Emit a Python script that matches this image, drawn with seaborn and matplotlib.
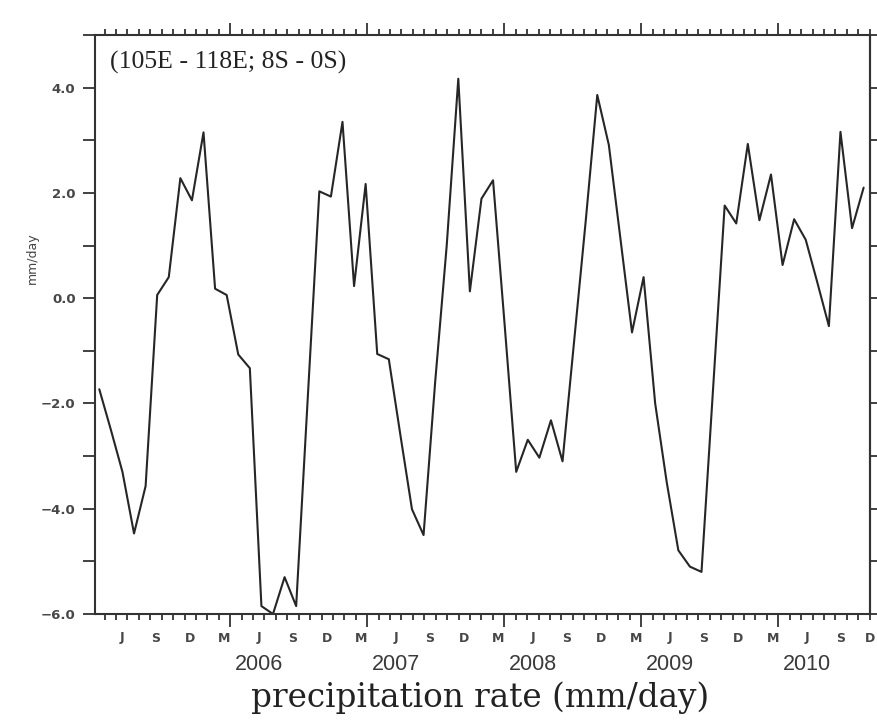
import numpy as np
import pandas as pd
import seaborn as sns
import matplotlib
matplotlib.use("Agg")
import matplotlib.pyplot as plt
from matplotlib.transforms import blended_transform_factory

# ---- data (monthly precipitation anomaly, mm/day) ----
precip = [-1.73, -2.5, -3.3, -4.47, -3.57, 0.06, 0.40, 2.28, 1.86, 3.15,
          0.18, 0.06, -1.07, -1.33, -5.85, -6.0, -5.3, -5.85, -1.9, 2.03,
          1.93, 3.35, 0.23, 2.17, -1.06, -1.16, -2.6, -4.01, -4.5, -1.6,
          1.0, 4.17, 0.13, 1.89, 2.24, -0.5, -3.30, -2.69, -3.03, -2.32,
          -3.1, -0.82, 1.46, 3.86, 2.91, 1.13, -0.65, 0.40, -2.0, -3.5,
          -4.79, -5.1, -5.2, -1.72, 1.76, 1.42, 2.93, 1.48, 2.35, 0.63,
          1.5, 1.11, 0.3, -0.53, 3.16, 1.33, 2.1]
month_labels = ["J", "S", "D", "M"] * 5 + ["J", "S", "D"]
year_labels = ["2006", "2007", "2008", "2009", "2010"]
ytick_values = [-6, -4, -2, 0, 2, 4]
ytick_labels = ["\u22126.0", "\u22124.0", "\u22122.0", "0.0", "2.0", "4.0"]
region_label = "(105E - 118E; 8S - 0S)"
title_text = "precipitation rate (mm/day)"
ylabel_text = "mm/day"

df = pd.DataFrame({"month": np.arange(len(precip)), "precip": precip})

sns.set_style("ticks")
fig = plt.figure(figsize=(8.78, 7.22), dpi=100)
ax = fig.add_axes([95 / 878, 1 - 614 / 722, 775 / 878, 579 / 722])

sns.lineplot(data=df, x="month", y="precip", ax=ax, color="#262626",
             linewidth=1.5)

ax.set_xlim(-0.37, 66.55)
ax.set_ylim(-6, 5)
ax.set_xlabel("")
ax.set_ylabel("")

spine_col = "#333333"
for s in ax.spines.values():
    s.set_color(spine_col)
    s.set_linewidth(1.5)
    s.set_visible(True)

# time-axis tick layout (month boundaries)
tick0, step = 0.458, 0.986
n_ticks = 68
long_idx = [11, 23, 35, 47, 59]
all_ticks = [tick0 + k * step for k in range(n_ticks)]
long_ticks = [all_ticks[k] for k in long_idx]
short_ticks = [t for k, t in enumerate(all_ticks) if k not in long_idx]
ax.set_xticks(long_ticks)
ax.set_xticks(short_ticks, minor=True)
ax.tick_params(axis="x", which="major", length=9, width=1.3, color=spine_col,
               top=True, bottom=True, direction="out",
               labelbottom=False, labeltop=False)
ax.tick_params(axis="x", which="minor", length=4.5, width=1.3, color=spine_col,
               top=True, bottom=True, direction="out")

# y axis
ax.set_yticks(ytick_values)
ax.set_yticklabels(ytick_labels)
ax.set_yticks([-5, -3, -1, 1, 3, 5], minor=True)
ax.tick_params(axis="y", which="both", length=9, width=1.3, color=spine_col,
               left=True, right=False, direction="out", pad=5)
for lab in ax.get_yticklabels():
    lab.set_fontfamily("DejaVu Sans")
    lab.set_fontweight("bold")
    lab.set_fontsize(9.5)
    lab.set_color("#474747")

sec = ax.secondary_yaxis("right")
sec.set_yticks(list(range(-6, 6)))
sec.tick_params(axis="y", length=6, width=1.3, color=spine_col,
                direction="out", labelright=False)
sec.spines["right"].set_color(spine_col)
sec.spines["right"].set_linewidth(1.5)

# month and year labels
trans = blended_transform_factory(ax.transData, fig.transFigure)
label_pos = [tick0 + (k + 0.5) * step for k in range(1, n_ticks, 3)]
label_pos[-1] = min(label_pos[-1], ax.get_xlim()[1])
for xpos, lab in zip(label_pos, month_labels):
    ax.text(xpos, 1 - 638 / 722, lab, transform=trans, ha="center",
            va="center", fontsize=9, fontweight="bold", color="#474747",
            family="DejaVu Sans")
year_pos = [tick0 + (k + 0.5) * step for k in (13, 25, 37, 49, 61)]
for xpos, lab in zip(year_pos, year_labels):
    ax.text(xpos, 1 - 665 / 722, lab, transform=trans, ha="center",
            va="center", fontsize=15.5, color="#3a3a3a",
            family="Liberation Sans")

ax.text(110 / 878, 1 - 62 / 722, region_label, transform=fig.transFigure,
        ha="left", va="center", fontsize=18.5, family="Liberation Serif",
        color="#222222")

fig.text(480 / 878, 1 - 698 / 722, title_text, ha="center", va="center",
         fontsize=23.5, family="DejaVu Serif", color="#222222")

fig.text(32 / 878, 1 - 258 / 722, ylabel_text, ha="center", va="center",
         rotation=90, fontsize=9, family="DejaVu Sans", color="#444444")

fig.savefig("out.png", dpi=100, facecolor="white")
